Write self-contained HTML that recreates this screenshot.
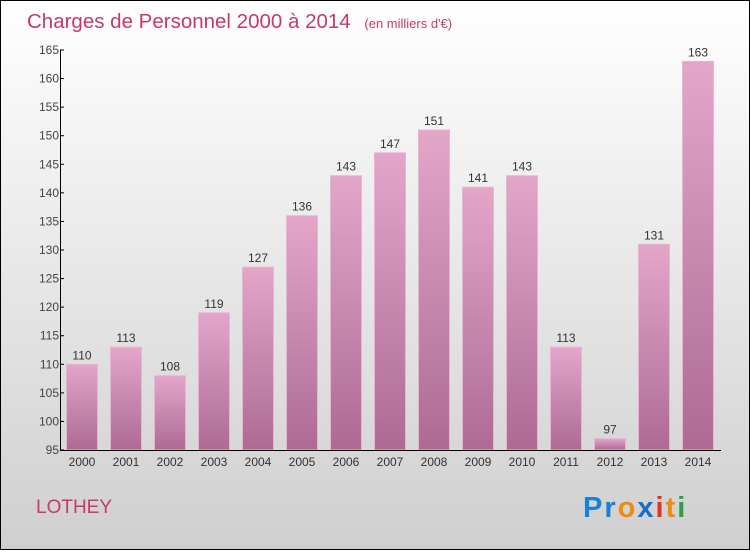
<!DOCTYPE html>
<html><head><meta charset="utf-8"><style>
body{margin:0;width:750px;height:550px;overflow:hidden;font-family:"Liberation Sans",sans-serif}
</style></head><body>
<svg width="750" height="550" xmlns="http://www.w3.org/2000/svg">
<defs>
<linearGradient id="bg" x1="0" y1="0" x2="0" y2="1"><stop offset="0" stop-color="#ffffff"/><stop offset="1" stop-color="#cfcfcf"/></linearGradient>
<linearGradient id="bar" x1="0" y1="0" x2="0" y2="1"><stop offset="0" stop-color="#e3a6c9"/><stop offset="1" stop-color="#ad6b94"/></linearGradient>
</defs>
<rect x="0.5" y="0.5" width="749" height="549" fill="url(#bg)" stroke="#000"/>
<text x="27" y="28" font-size="20.5" fill="#c8386a">Charges de Personnel 2000 à 2014 <tspan font-size="13" dx="8">(en milliers d'€)</tspan></text>
<g id="plot"></g>
<text x="36" y="513" font-size="19" fill="#c8386a">LOTHEY</text>
<text x="583" y="517" font-size="29" font-weight="bold" letter-spacing="2"><tspan fill="#1a7fd6">Pr</tspan><tspan fill="#f08a10">o</tspan><tspan fill="#1a6cc8">x</tspan><tspan fill="#e83020">i</tspan><tspan fill="#f08a10">t</tspan><tspan fill="#2aa040">i</tspan></text>
</svg>
<script>
const years=["2000","2001","2002","2003","2004","2005","2006","2007","2008","2009","2010","2011","2012","2013","2014"];
const values=[110,113,108,119,127,136,143,147,151,141,143,113,97,131,163];
const yTicks=[95,100,105,110,115,120,125,130,135,140,145,150,155,160,165];
const ns="http://www.w3.org/2000/svg";
const g=document.getElementById("plot");
const yMin=95,yMax=165,y0=450,y1=50;
function yS(v){return y0-(v-yMin)/(yMax-yMin)*(y0-y1);}
function xS(i){return 82+i*44;}
function mk(t,a){const e=document.createElementNS(ns,t);for(const k in a)e.setAttribute(k,a[k]);g.appendChild(e);return e;}
years.forEach((yr,i)=>{
 const r=mk("rect",{x:xS(i)-15.5,y:yS(values[i]),width:31,height:y0-yS(values[i]),fill:"url(#bar)",stroke:"#e8b4d2","stroke-width":1});
 
 
 const l=mk("text",{x:xS(i),y:yS(values[i])-5,"text-anchor":"middle","font-size":12,fill:"#333"});
 l.textContent=values[i];
 
 
 const x=mk("text",{x:xS(i),y:466,"text-anchor":"middle","font-size":12,fill:"#333"});
 x.textContent=yr;
 
 
});
yTicks.forEach(v=>{
 mk("line",{x1:60,x2:64,y1:yS(v),y2:yS(v),stroke:"#000"});
 const t=mk("text",{x:59,y:yS(v)+4,"text-anchor":"end","font-size":12,fill:"#444"});
 t.textContent=v;
 
 
});
const ya=mk("line",{x1:60.5,x2:60.5,y1:y1,y2:y0,stroke:"#000"});


const xa=mk("line",{x1:60,x2:721,y1:y0+0.5,y2:y0+0.5,stroke:"#000"});


</script>
</body></html>
